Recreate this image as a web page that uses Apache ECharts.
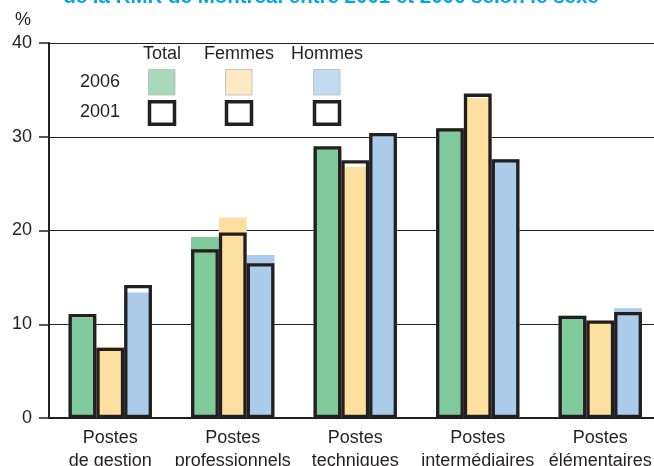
<!DOCTYPE html>
<html>
<head>
<meta charset="utf-8">
<style>
  html, body { margin: 0; padding: 0; background: #ffffff; }
  #chart { width: 654px; height: 466px; }
</style>
<script src="https://cdn.jsdelivr.net/npm/echarts@6/dist/echarts.min.js"></script>
</head>
<body>
<div id="chart"></div>
<script>
// Job categories on the horizontal axis
const categories = [
  'Postes\nde gestion',
  'Postes\nprofessionnels',
  'Postes\ntechniques',
  'Postes\nintermédiaires',
  'Postes\nélémentaires'
];

// Shares (%) in 2006 – filled bars
const total2006  = [10.7, 19.3, 28.7, 30.9, 10.9];
const femmes2006 = [7.6, 21.4, 26.8, 34.1, 10.4];
const hommes2006 = [13.4, 17.4, 30.1, 27.6, 11.7];

// Shares (%) in 2001 – outlined bars
const total2001  = [11.1, 18.0, 29.0, 30.9, 10.9];
const femmes2001 = [7.5, 19.8, 27.5, 34.6, 10.4];
const hommes2001 = [14.2, 16.5, 30.4, 27.6, 11.3];

// Value axis
const yMin = 0, yMax = 40, yStep = 10;

// Key texts
const groupNames = ['Total', 'Femmes', 'Hommes'];
const yearNames = ['2006', '2001'];
const titleText = 'de la RMR de Montréal entre 2001 et 2006 selon le sexe';

const INK = '#231f20';
const FONT = '"Liberation Sans", Arial, Helvetica, sans-serif';
const barFill = ['#80c99b', '#fde09f', '#aacbea'];
const keyFill = ['#a9d9bb', '#fee9c2', '#c3dbf1'];
const BAR_W = 27.8;

const chart = echarts.init(document.getElementById('chart'), null, { renderer: 'canvas' });

function filled(name, data, color) {
  return {
    name: name, type: 'bar', xAxisIndex: 0, yAxisIndex: 0,
    data: data, barWidth: BAR_W, barGap: '0%',
    itemStyle: { color: color }, z: 2,
    emphasis: { disabled: true }
  };
}
function outlined(name, data) {
  return {
    name: name, type: 'bar', xAxisIndex: 1, yAxisIndex: 0,
    data: data, barWidth: BAR_W, barGap: '0%',
    itemStyle: { color: 'rgba(0,0,0,0)', borderColor: INK, borderWidth: 3.3 },
    z: 3, emphasis: { disabled: true }
  };
}

// Key drawn as a small table: header row, then one row per year
const keyCols = [162, 239, 327];
const keyGraphics = [];
groupNames.forEach(function (g, i) {
  keyGraphics.push({ type: 'text', x: keyCols[i], y: 54.5,
    style: { text: g, fill: INK, font: '18px ' + FONT, textAlign: 'center', textVerticalAlign: 'middle' } });
});
keyGraphics.push({ type: 'text', x: 120, y: 82.5,
  style: { text: yearNames[0], fill: INK, font: '18px ' + FONT, textAlign: 'right', textVerticalAlign: 'middle' } });
keyGraphics.push({ type: 'text', x: 120, y: 112.5,
  style: { text: yearNames[1], fill: INK, font: '18px ' + FONT, textAlign: 'right', textVerticalAlign: 'middle' } });
keyCols.forEach(function (cx, i) {
  keyGraphics.push({ type: 'rect', shape: { x: cx - 13.5, y: 69.5, width: 26.5, height: 25.5 },
    style: { fill: keyFill[i], stroke: '#b9b9b9', lineWidth: 0.8 } });
  keyGraphics.push({ type: 'rect', shape: { x: cx - 12.5, y: 101.8, width: 25, height: 22.5 },
    style: { fill: 'none', stroke: INK, lineWidth: 3.5 } });
});

const option = {
  animation: false,
  backgroundColor: '#ffffff',
  textStyle: { fontFamily: FONT },
  grid: { left: 49, top: 43, width: 612.5, height: 375, containLabel: false, outerBoundsMode: 'none' },
  xAxis: [
    {
      type: 'category', data: categories,
      axisLine: { show: true, lineStyle: { color: INK, width: 2 } },
      axisTick: { show: false },
      axisLabel: { color: INK, fontSize: 18, lineHeight: 23, margin: 9, interval: 0, fontFamily: FONT },
      splitLine: { show: false }
    },
    {
      type: 'category', data: categories, show: false,
      gridIndex: 0
    }
  ],
  yAxis: {
    type: 'value', min: yMin, max: yMax, interval: yStep,
    axisLine: { show: true, lineStyle: { color: INK, width: 2 } },
    axisTick: { show: true, length: 10, lineStyle: { color: INK, width: 1.5 } },
    axisLabel: { color: INK, fontSize: 18, margin: 17, fontFamily: FONT },
    splitLine: { show: true, lineStyle: { color: INK, width: 1.2 } }
  },
  graphic: [
    { type: 'text', x: 331, y: -2.2,
      style: { text: titleText, fill: '#00a6e6', font: 'bold 20.5px ' + FONT, textAlign: 'center', textVerticalAlign: 'middle' } },
    { type: 'text', x: 23, y: 20,
      style: { text: '%', fill: INK, font: '18px ' + FONT, textAlign: 'center', textVerticalAlign: 'middle' } }
  ].concat(keyGraphics),
  series: [
    filled('Total 2006', total2006, barFill[0]),
    filled('Femmes 2006', femmes2006, barFill[1]),
    filled('Hommes 2006', hommes2006, barFill[2]),
    outlined('Total 2001', total2001),
    outlined('Femmes 2001', femmes2001),
    outlined('Hommes 2001', hommes2001)
  ]
};

chart.setOption(option);
</script>
</body>
</html>
